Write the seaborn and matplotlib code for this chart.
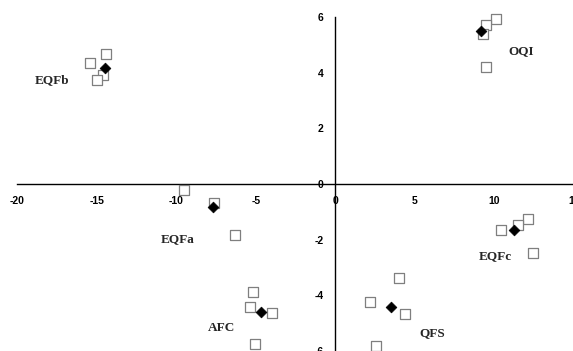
import numpy as np
import pandas as pd
import seaborn as sns
import matplotlib.pyplot as plt

# open squares (individual samples)
sq_x = [-14.4, -15.4, -14.6, -15.0,
        -9.5, -7.6, -6.3,
        -5.16, -5.35, -3.96, -5.03,
        10.1, 9.5, 9.3, 9.5,
        12.08, 11.45, 10.44, 12.45,
        4.03, 2.2, 4.4, 2.58]
sq_y = [4.68, 4.35, 3.93, 3.74,
        -0.22, -0.68, -1.83,
        -3.89, -4.43, -4.64, -5.76,
        5.94, 5.72, 5.4, 4.21,
        -1.26, -1.47, -1.66, -2.48,
        -3.38, -4.24, -4.68, -5.83]

# black diamonds (group means)
dm_x = [-14.5, -7.7, -4.65, 9.18, 11.26, 3.52]
dm_y = [4.17, -0.83, -4.6, 5.5, -1.66, -4.42]

# group labels and their anchor points
labels = ["EQFb", "EQFa", "AFC", "OQI", "EQFc", "QFS"]
label_x = [-18.87, -10.94, -7.99, 10.88, 8.99, 5.28]
label_y = [3.74, -1.98, -5.18, 4.78, -2.59, -5.36]

sns.set_style("white")
plt.rcParams['font.family'] = ['Liberation Sans', 'DejaVu Sans']
plt.rcParams['axes.unicode_minus'] = False

fig = plt.figure(figsize=(5.73, 3.51), dpi=100)
ax = fig.add_axes([17 / 573, 0.0, 557 / 573, 334 / 351])

df_sq = pd.DataFrame({"x": sq_x, "y": sq_y})
df_dm = pd.DataFrame({"x": dm_x, "y": dm_y})

sns.scatterplot(data=df_sq, x="x", y="y", marker="s", s=42,
                facecolor="white", edgecolor="#7f7f7f", linewidth=0.9,
                ax=ax, zorder=3, clip_on=False)
sns.scatterplot(data=df_dm, x="x", y="y", marker="D", s=30,
                color="black", edgecolor="black", linewidth=0.5,
                ax=ax, zorder=4, clip_on=False)

for lab, lx, ly in zip(labels, label_x, label_y):
    ax.text(lx, ly, lab, ha="left", va="center", fontsize=9.5,
            fontweight="bold", family=["Liberation Serif"])

ax.set_xlim(-20, 15)
ax.set_ylim(-6, 6)
ax.set_xticks([-20, -15, -10, -5, 0, 5, 10, 15])
ax.set_yticks([-6, -4, -2, 0, 2, 4, 6])
ax.set_xlabel("")
ax.set_ylabel("")

ax.spines["left"].set_position(("data", 0))
ax.spines["bottom"].set_position(("data", 0))
ax.spines["right"].set_visible(False)
ax.spines["top"].set_visible(False)
for sp in ["left", "bottom"]:
    ax.spines[sp].set_color("black")
    ax.spines[sp].set_linewidth(1.0)

ax.tick_params(axis="both", direction="out", length=3.5, width=1,
               color="black", labelsize=7.5, labelcolor="black")
ax.tick_params(axis="x", pad=5)
ax.tick_params(axis="y", pad=5)
for t in ax.get_xticklabels() + ax.get_yticklabels():
    t.set_fontweight("bold")

fig.savefig("out.png", dpi=100)
